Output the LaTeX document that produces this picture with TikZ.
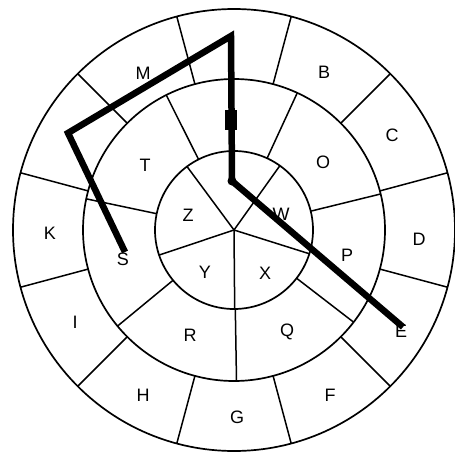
\documentclass[tikz,border=0pt]{standalone}
\usepackage{fontspec}
\setmainfont{Liberation Sans}
\usetikzlibrary{calc}
\begin{document}
\begin{tikzpicture}[x=1pt,y=-1pt,
  ring/.style={line width=1.7pt,black},
  spoke/.style={line width=1.5pt,black},
  lbl/.style={font=\fontsize{18}{18}\selectfont,inner sep=0pt,anchor=center},
  route/.style={line width=6.5pt,black,line join=miter}]
\useasboundingbox (0,0) rectangle (455,455);
\fill[white] (0,0) rectangle (455,455);
\coordinate (C) at (234,230);
% circles
\draw[ring] (C) circle (221pt);
\draw[ring] (C) circle (151pt);
\draw[ring] (C) circle (79pt);
% outer ring spokes
\foreach \a in {15,45,...,345}
  \draw[spoke] ($(C)+(\a:151pt)$) -- ($(C)+(\a:221pt)$);
% middle ring spokes
\foreach \k in {0,...,6}
  \draw[spoke] ($(C)+(13.8+51.43*\k:79pt)$) -- ($(C)+(13.8+51.43*\k:151pt)$);
% inner ring spokes
\foreach \k in {0,...,4}
  \draw[spoke] (C) -- ($(C)+(54.5+72*\k:79pt)$);
% outer letters
\node[lbl] (lB) at (324,72) {B};
\node[lbl] (lC) at (392,135) {C};
\node[lbl] (lD) at (419,239) {D};
\node[lbl] (lE) at (401,331) {E};
\node[lbl] (lF) at (330,395) {F};
\node[lbl] (lG) at (237,417) {G};
\node[lbl] (lH) at (143,395) {H};
\node[lbl] (lI) at (75,322) {I};
\node[lbl] (lK) at (50,233) {K};
\node[lbl] (lM) at (143,73) {M};
% middle letters
\node[lbl] (lO) at (323,162) {O};
\node[lbl] (lP) at (347,255) {P};
\node[lbl] (lQ) at (287,332) {Q};
\node[lbl] (lR) at (190,335) {R};
\node[lbl] (lS) at (123,259) {S};
\node[lbl] (lT) at (145,165) {T};
% inner letters
\node[lbl] (lZ) at (188,215) {Z};
\node[lbl] (lW) at (281,214) {W};
\node[lbl] (lX) at (265,273) {X};
\node[lbl] (lY) at (205,272) {Y};
% route
\coordinate (p0) at (125,252);
\coordinate (p1) at (68,133);
\coordinate (p2) at (231,36);
\coordinate (p3) at (232,181);
\coordinate (p4) at (403,327);
\draw[route] (p0) -- (p1) -- (p2) -- (p3) -- (p4);
\fill[black] (225,110) rectangle (237,130);
\fill[black] (p3) circle (4.5pt);
\end{tikzpicture}
\end{document}
